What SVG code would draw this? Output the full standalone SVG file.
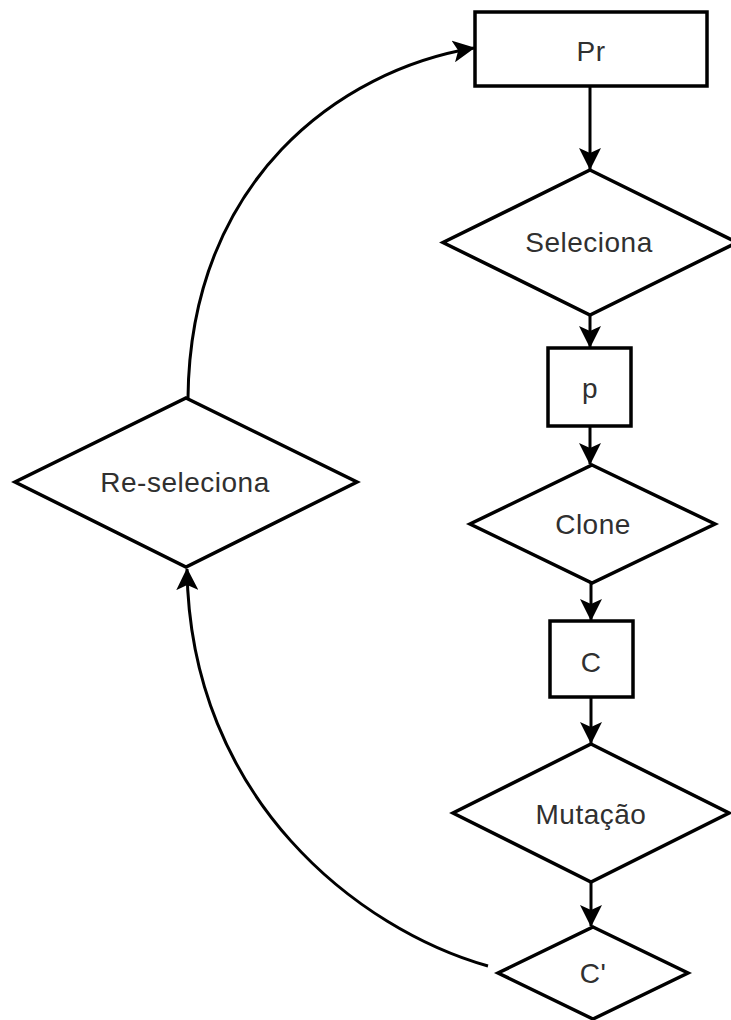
<svg xmlns="http://www.w3.org/2000/svg" width="731" height="1020" viewBox="0 0 731 1020">
  <style>
    .shape { fill: #ffffff; stroke: #000000; stroke-width: 3.5; stroke-linejoin: miter; }
    .label { font-family: "Liberation Sans", Arial, sans-serif; font-size: 28px; letter-spacing: 0.5px; fill: #303030; text-anchor: middle; }
    .edge { fill: none; stroke: #000000; stroke-width: 3; }
  </style>
  <defs>
    <marker id="arrow" markerUnits="userSpaceOnUse" viewBox="0 0 22 22" markerWidth="22" markerHeight="22" refX="21" refY="11" orient="auto">
      <path d="M0,0 L22,11 L0,22 L5,11 z" fill="#000000"/>
    </marker>
  </defs>

  <rect width="731" height="1020" fill="#ffffff"/>

  <!-- connectors -->
  <g id="connectors">
    <line class="edge" x1="590" y1="86" x2="590" y2="169" marker-end="url(#arrow)"/>
    <line class="edge" x1="590" y1="315" x2="590" y2="347" marker-end="url(#arrow)"/>
    <line class="edge" x1="590" y1="426" x2="590" y2="464" marker-end="url(#arrow)"/>
    <line class="edge" x1="591" y1="583" x2="591" y2="620" marker-end="url(#arrow)"/>
    <line class="edge" x1="591" y1="697" x2="591" y2="743" marker-end="url(#arrow)"/>
    <line class="edge" x1="591" y1="882" x2="591" y2="926" marker-end="url(#arrow)"/>
    <!-- loop back: C' to Re-seleciona -->
    <path class="edge" d="M488,966 C360,930 190,800 187,569" marker-end="url(#arrow)"/>
    <!-- loop back: Re-seleciona to Pr -->
    <path class="edge" d="M188,398 C190,180 340,70 474,48" marker-end="url(#arrow)"/>
  </g>

  <g id="node-pr">
    <rect class="shape" x="475" y="12" width="232" height="74"/>
    <text class="label" x="591" y="61">Pr</text>
  </g>

  <g id="node-seleciona">
    <polygon class="shape" points="590,170 737,242.5 590,315 443,242.5"/>
    <text class="label" x="589" y="252">Seleciona</text>
  </g>

  <g id="node-p">
    <rect class="shape" x="548" y="348" width="83" height="78"/>
    <text class="label" x="590" y="398">p</text>
  </g>

  <g id="node-clone">
    <polygon class="shape" points="592,465 715,524 592,583 470,524"/>
    <text class="label" x="593" y="534">Clone</text>
  </g>

  <g id="node-c">
    <rect class="shape" x="550" y="621" width="83" height="76"/>
    <text class="label" x="591" y="672">C</text>
  </g>

  <g id="node-mutacao">
    <polygon class="shape" points="591,744 729,813 591,882 453,813"/>
    <text class="label" x="591" y="824">Mutação</text>
  </g>

  <g id="node-c-prime">
    <polygon class="shape" points="593,927 688,973 593,1019 498,973"/>
    <text class="label" x="593" y="983">C'</text>
  </g>

  <g id="node-reseleciona">
    <polygon class="shape" points="186,398 357,482 186,567 15,482"/>
    <text class="label" x="185" y="492">Re-seleciona</text>
  </g>
</svg>
